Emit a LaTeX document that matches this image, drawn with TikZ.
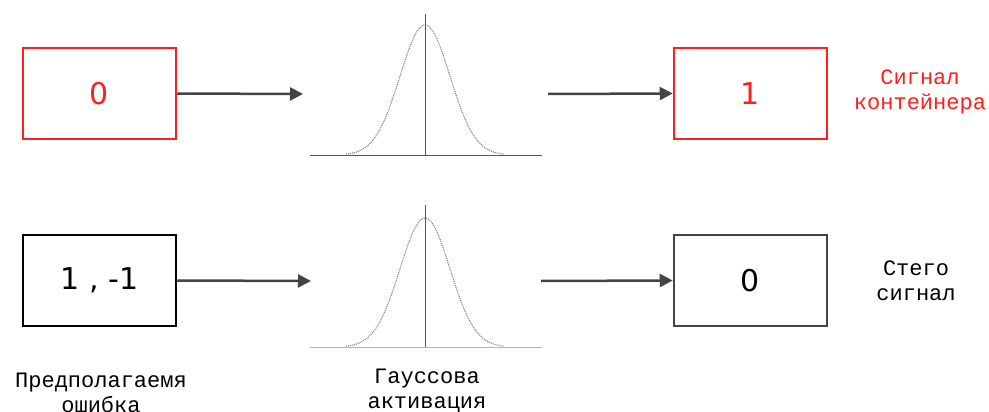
\documentclass[tikz,border=0pt]{standalone}
\usepackage{fontspec}
\setmainfont{Liberation Mono}
\newfontfamily\boxfont{DejaVu Sans}
\usetikzlibrary{arrows.meta}
\definecolor{sigred}{HTML}{FF1F1F}
\definecolor{arrgray}{HTML}{444444}
\definecolor{axgray}{HTML}{555555}
\definecolor{curvegray}{HTML}{6F7A76}
\begin{document}
\begin{tikzpicture}[x=1pt,y=-1pt,
  valbox/.style={draw,line width=2.5pt,minimum width=153pt,minimum height=91pt,inner sep=0pt,
    font=\boxfont\fontsize{30}{36}\selectfont},
  redbox/.style={valbox,draw=sigred,text=sigred},
  blackbox/.style={valbox,draw=black},
  graybox/.style={valbox,draw=arrgray,text=black},
  conn/.style={draw=arrgray,line width=2.5pt,-{Triangle[length=13pt,width=13pt]}},
  lbl/.style={align=center,font=\fontsize{22}{25}\selectfont,anchor=base},
  curve/.style={draw=curvegray,line width=1pt,densely dotted},
  axis/.style={draw=axgray,line width=1pt}
]
\useasboundingbox (0,0) rectangle (989,412);
% boxes
\node[redbox] (in1) at (99.5,93.5) {0};
\node[redbox] (out1) at (750.5,93.5) {1};
\node[blackbox] (in2) at (99.5,280.5) {1 , -1};
\node[graybox] (out2) at (750.5,280.5) {0};
% gaussian endpoints
\coordinate (g1in) at (303,94);
\coordinate (g1out) at (548,94);
\coordinate (g2in) at (311,281);
\coordinate (g2out) at (541,281);
% arrows
\draw[conn] (in1.east) -- (g1in);
\draw[conn] (g1out) -- (out1.west);
\draw[conn] (in2.east) -- (g2in);
\draw[conn] (g2out) -- (out2.west);
% top gaussian
\draw[axis] (310,155) -- (542,155);
\draw[axis] (425,14) -- (425,155);
\draw[curve] plot[domain=346:504,samples=90] (\x,{155-130*exp(-0.5*((\x-425)/25)^2)});
% bottom gaussian
\draw[axis,draw=axgray!45] (310,347) -- (542,347);
\draw[axis] (425,205) -- (425,347);
\draw[curve] plot[domain=346:504,samples=90] (\x,{347-129*exp(-0.5*((\x-425)/25)^2)});
% labels
\node[lbl,text=sigred] (lab1) at (920,110) {Сигнал\\контейнера};
\node[lbl] (lab2) at (916,300) {Стего\\сигнал};
\node[lbl] (lab3) at (101,412) {Предполагаемя\\ошибка};
\node[lbl] (lab4) at (427,408) {Гауссова\\активация};
\end{tikzpicture}
\end{document}
